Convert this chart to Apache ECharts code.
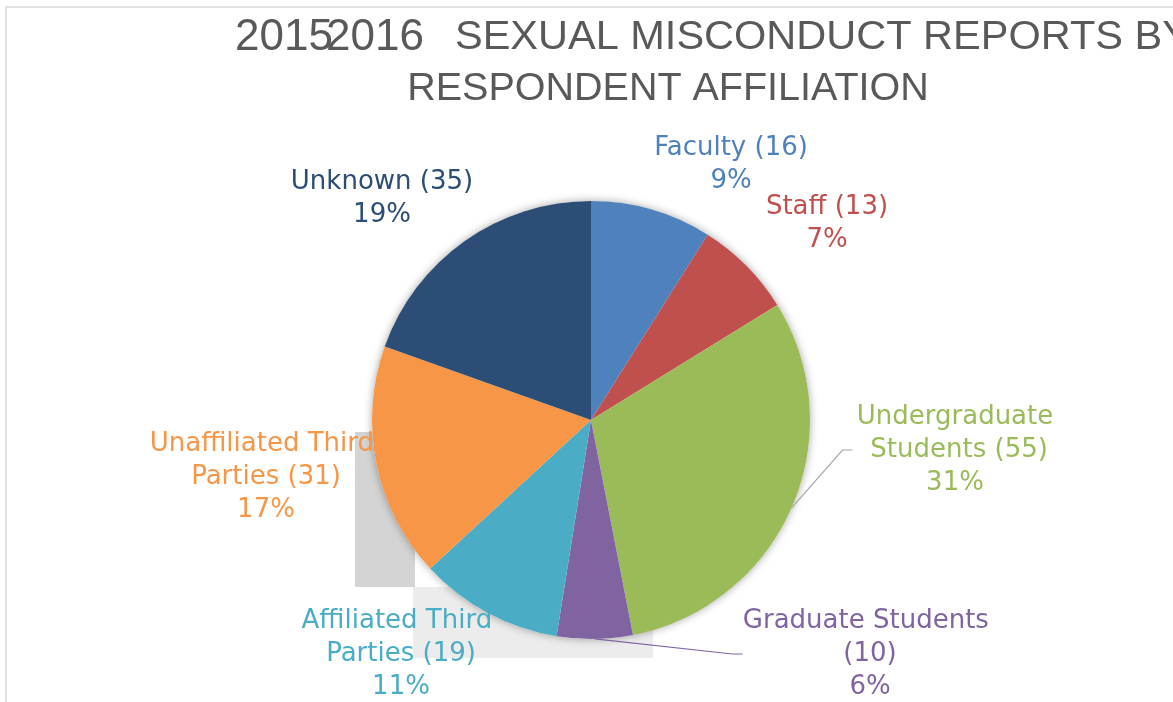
<!DOCTYPE html>
<html>
<head>
<meta charset="utf-8">
<script src="https://cdn.jsdelivr.net/npm/echarts@6/dist/echarts.min.js"></script>
<style>
  html, body { margin: 0; padding: 0; background: #ffffff; }
  #chart { width: 1173px; height: 702px; }
</style>
</head>
<body>
<div id="chart"></div>
<script>
// ---- data ----
const categories = ['Faculty', 'Staff', 'Undergraduate Students', 'Graduate Students',
  'Affiliated Third Parties', 'Unaffiliated Third Parties', 'Unknown'];
const reportCounts = [16, 13, 55, 10, 19, 31, 35];
const titleYears = ['2015', '2016'];
const titleLine1 = 'SEXUAL MISCONDUCT REPORTS BY';
const titleLine2 = 'RESPONDENT AFFILIATION';

// ---- styling / layout (not data) ----
const sliceColors = ['#4F81BD', '#C0504D', '#9BBB59', '#8064A2', '#4BACC6', '#F79646', '#2C4D75'];
const labelCenters = [[731, 165], [827, 224], [955, 450], [870, 654], [401, 654], [266, 477], [382, 199]];
const labelWrapWidths = [null, null, 205, 255, 200, 235, null];
const leaderLines = [null, null, '#A6A6A6', '#8064A2', null, null, null];

const total = reportCounts.reduce((a, b) => a + b, 0);

const pieData = categories.map((name, i) => {
  const item = {
    name: name,
    value: reportCounts[i],
    itemStyle: { color: sliceColors[i] },
    label: { color: sliceColors[i] }
  };
  if (labelWrapWidths[i]) {
    item.label.width = labelWrapWidths[i];
    item.label.overflow = 'break';
  }
  if (leaderLines[i]) {
    item.labelLine = { show: true, lineStyle: { color: leaderLines[i], width: 1.2 } };
  }
  return item;
});

const chart = echarts.init(document.getElementById('chart'));
const titleFont = '"Liberation Sans", Arial, sans-serif';
chart.setOption({
  animation: false,
  backgroundColor: '#ffffff',
  graphic: [
    { type: 'rect', silent: true, z: 0,
      shape: { x: 6, y: 7, width: 1400, height: 900 },
      style: { fill: 'none', stroke: '#d9d9d9', lineWidth: 1.5 } },
    { type: 'rect', silent: true, z: 0,
      shape: { x: 355, y: 432, width: 60, height: 155 },
      style: { fill: '#d4d4d4' } },
    { type: 'rect', silent: true, z: 0,
      shape: { x: 413, y: 587, width: 240, height: 71 },
      style: { fill: '#ececec' } },
    { type: 'text', silent: true, x: 235, y: 38, z: 5,
      style: { text: titleYears[0], fill: '#595959', font: '44px ' + titleFont, verticalAlign: 'middle' } },
    { type: 'text', silent: true, x: 326, y: 38, z: 5,
      style: { text: titleYears[1], fill: '#595959', font: '44px ' + titleFont, verticalAlign: 'middle' } },
    { type: 'text', silent: true, x: 455, y: 38, z: 5,
      style: { text: titleLine1, fill: '#595959', font: '41.5px ' + titleFont, verticalAlign: 'middle' } },
    { type: 'text', silent: true, x: 668, y: 89, z: 5,
      style: { text: titleLine2, fill: '#595959', font: '39.5px ' + titleFont, align: 'center', verticalAlign: 'middle' } }
  ],
  series: [
    {
      type: 'pie', silent: true, center: [591, 420], radius: 219, z: 2,
      label: { show: false }, labelLine: { show: false },
      data: [{ value: total, itemStyle: { color: '#ffffff', shadowBlur: 9, shadowColor: 'rgba(0,0,0,0.35)' } }]
    },
    {
      type: 'pie',
      z: 3,
      center: [591, 420],
      radius: 219,
      startAngle: 90,
      clockwise: true,
      percentPrecision: 0,
      avoidLabelOverlap: false,
      itemStyle: { borderWidth: 0 },
      label: {
        show: true,
        position: 'outside',
        formatter: '{b} ({c})\n{d}%',
        fontFamily: '"DejaVu Sans", Verdana, sans-serif',
        fontSize: 26,
        lineHeight: 33,
        align: 'center'
      },
      labelLine: { show: false, length: 10, length2: 10, smooth: false },
      labelLayout: function (params) {
        const p = labelCenters[params.dataIndex];
        return { x: p[0], y: p[1], align: 'center', verticalAlign: 'middle' };
      },
      data: pieData
    }
  ]
});
</script>
</body>
</html>
